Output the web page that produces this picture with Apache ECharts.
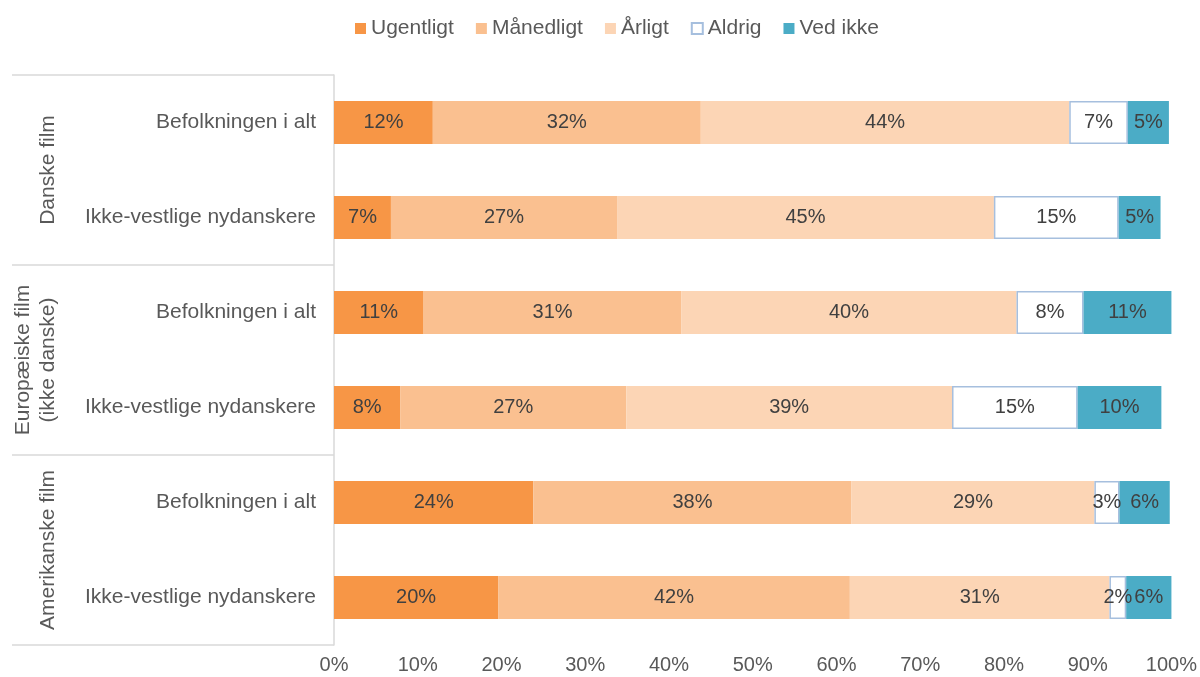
<!DOCTYPE html>
<html>
<head>
<meta charset="utf-8">
<title>Film</title>
<script src="https://cdn.jsdelivr.net/npm/echarts@6/dist/echarts.min.js"></script>
<style>
    html, body { margin: 0; padding: 0; background: #fff; }
    #chart { width: 1200px; height: 677px; }
</style>
</head>
<body>
<div id="chart"></div>
<script>
    // kategorier (rækker, oppefra og ned)
    var categories = ['Befolkningen i alt', 'Ikke-vestlige nydanskere', 'Befolkningen i alt', 'Ikke-vestlige nydanskere', 'Befolkningen i alt', 'Ikke-vestlige nydanskere'];
    var groups = ['Danske film', 'Europæiske film\n(ikke danske)', 'Amerikanske film'];
    var seriesNames = ['Ugentligt', 'Månedligt', 'Årligt', 'Aldrig', 'Ved ikke'];

    // andele i procent
    var ugentligt = [11.8, 6.8, 10.7, 7.9, 23.8, 19.6];
    var maanedligt = [32.0, 27.0, 30.8, 27.0, 38.0, 42.0];
    var aarligt = [44.0, 45.0, 40.0, 38.9, 29.0, 31.0];
    var aldrig = [7.0, 14.9, 8.0, 15.0, 3.0, 2.0];
    var vedIkke = [4.9, 5.0, 10.5, 10.0, 6.0, 5.5];

    var xTicks = [0, 10, 20, 30, 40, 50, 60, 70, 80, 90, 100];

    (function (window) {
        var chart = echarts.init(document.getElementById('chart'));
        var font = 'Liberation Sans, Arial, sans-serif';
        var values = [ugentligt, maanedligt, aarligt, aldrig, vedIkke];
        var styles = [
            { color: '#F79646' },
            { color: '#FAC090' },
            { color: '#FCD5B5' },
            { color: '#ffffff', borderColor: '#A6BFDE', borderWidth: 1.5 },
            { color: '#4BACC6' }
        ];

        var series = seriesNames.map(function (name, i) {
            return {
                name: name,
                type: 'bar',
                stack: 'total',
                barWidth: 43,
                data: values[i],
                itemStyle: styles[i],
                label: {
                    show: true,
                    position: 'inside',
                    color: '#404040',
                    fontSize: 20,
                    fontFamily: font,
                    formatter: function (p) { return Math.round(p.value) + '%'; }
                },
                emphasis: { disabled: true }
            };
        });

        chart.setOption({
            animation: false,
            textStyle: { fontFamily: font },
            legend: {
                top: 13,
                left: 350,
                itemWidth: 11,
                itemHeight: 11,
                itemGap: 22,
                icon: 'rect',
                textStyle: { fontSize: 21, color: '#595959', fontFamily: font },
                data: seriesNames
            },
            grid: { left: 334, right: 28, top: 75, bottom: 32 },
            xAxis: {
                type: 'value',
                min: xTicks[0],
                max: xTicks[xTicks.length - 1],
                interval: 10,
                axisLine: { show: false },
                axisTick: { show: false },
                splitLine: { show: false },
                axisLabel: {
                    margin: 10,
                    fontSize: 20,
                    color: '#595959',
                    fontFamily: font,
                    formatter: '{value}%'
                }
            },
            yAxis: [
                {
                    type: 'category',
                    inverse: true,
                    data: categories,
                    axisLine: { show: true, lineStyle: { color: '#D9D9D9', width: 1.5 } },
                    axisTick: { show: true, interval: 1, length: 322, lineStyle: { color: '#D9D9D9', width: 1.5 } },
                    axisLabel: { margin: 18, fontSize: 21, color: '#595959', fontFamily: font }
                },
                {
                    type: 'category',
                    inverse: true,
                    position: 'left',
                    offset: 272,
                    data: groups,
                    axisLine: { show: false },
                    axisTick: { show: false },
                    axisLabel: { interval: 0, hideOverlap: false, rotate: 90, margin: 1, fontSize: 21, lineHeight: 25, color: '#595959', fontFamily: font }
                }
            ],
            series: series
        });
    })(window);
</script>
</body>
</html>
